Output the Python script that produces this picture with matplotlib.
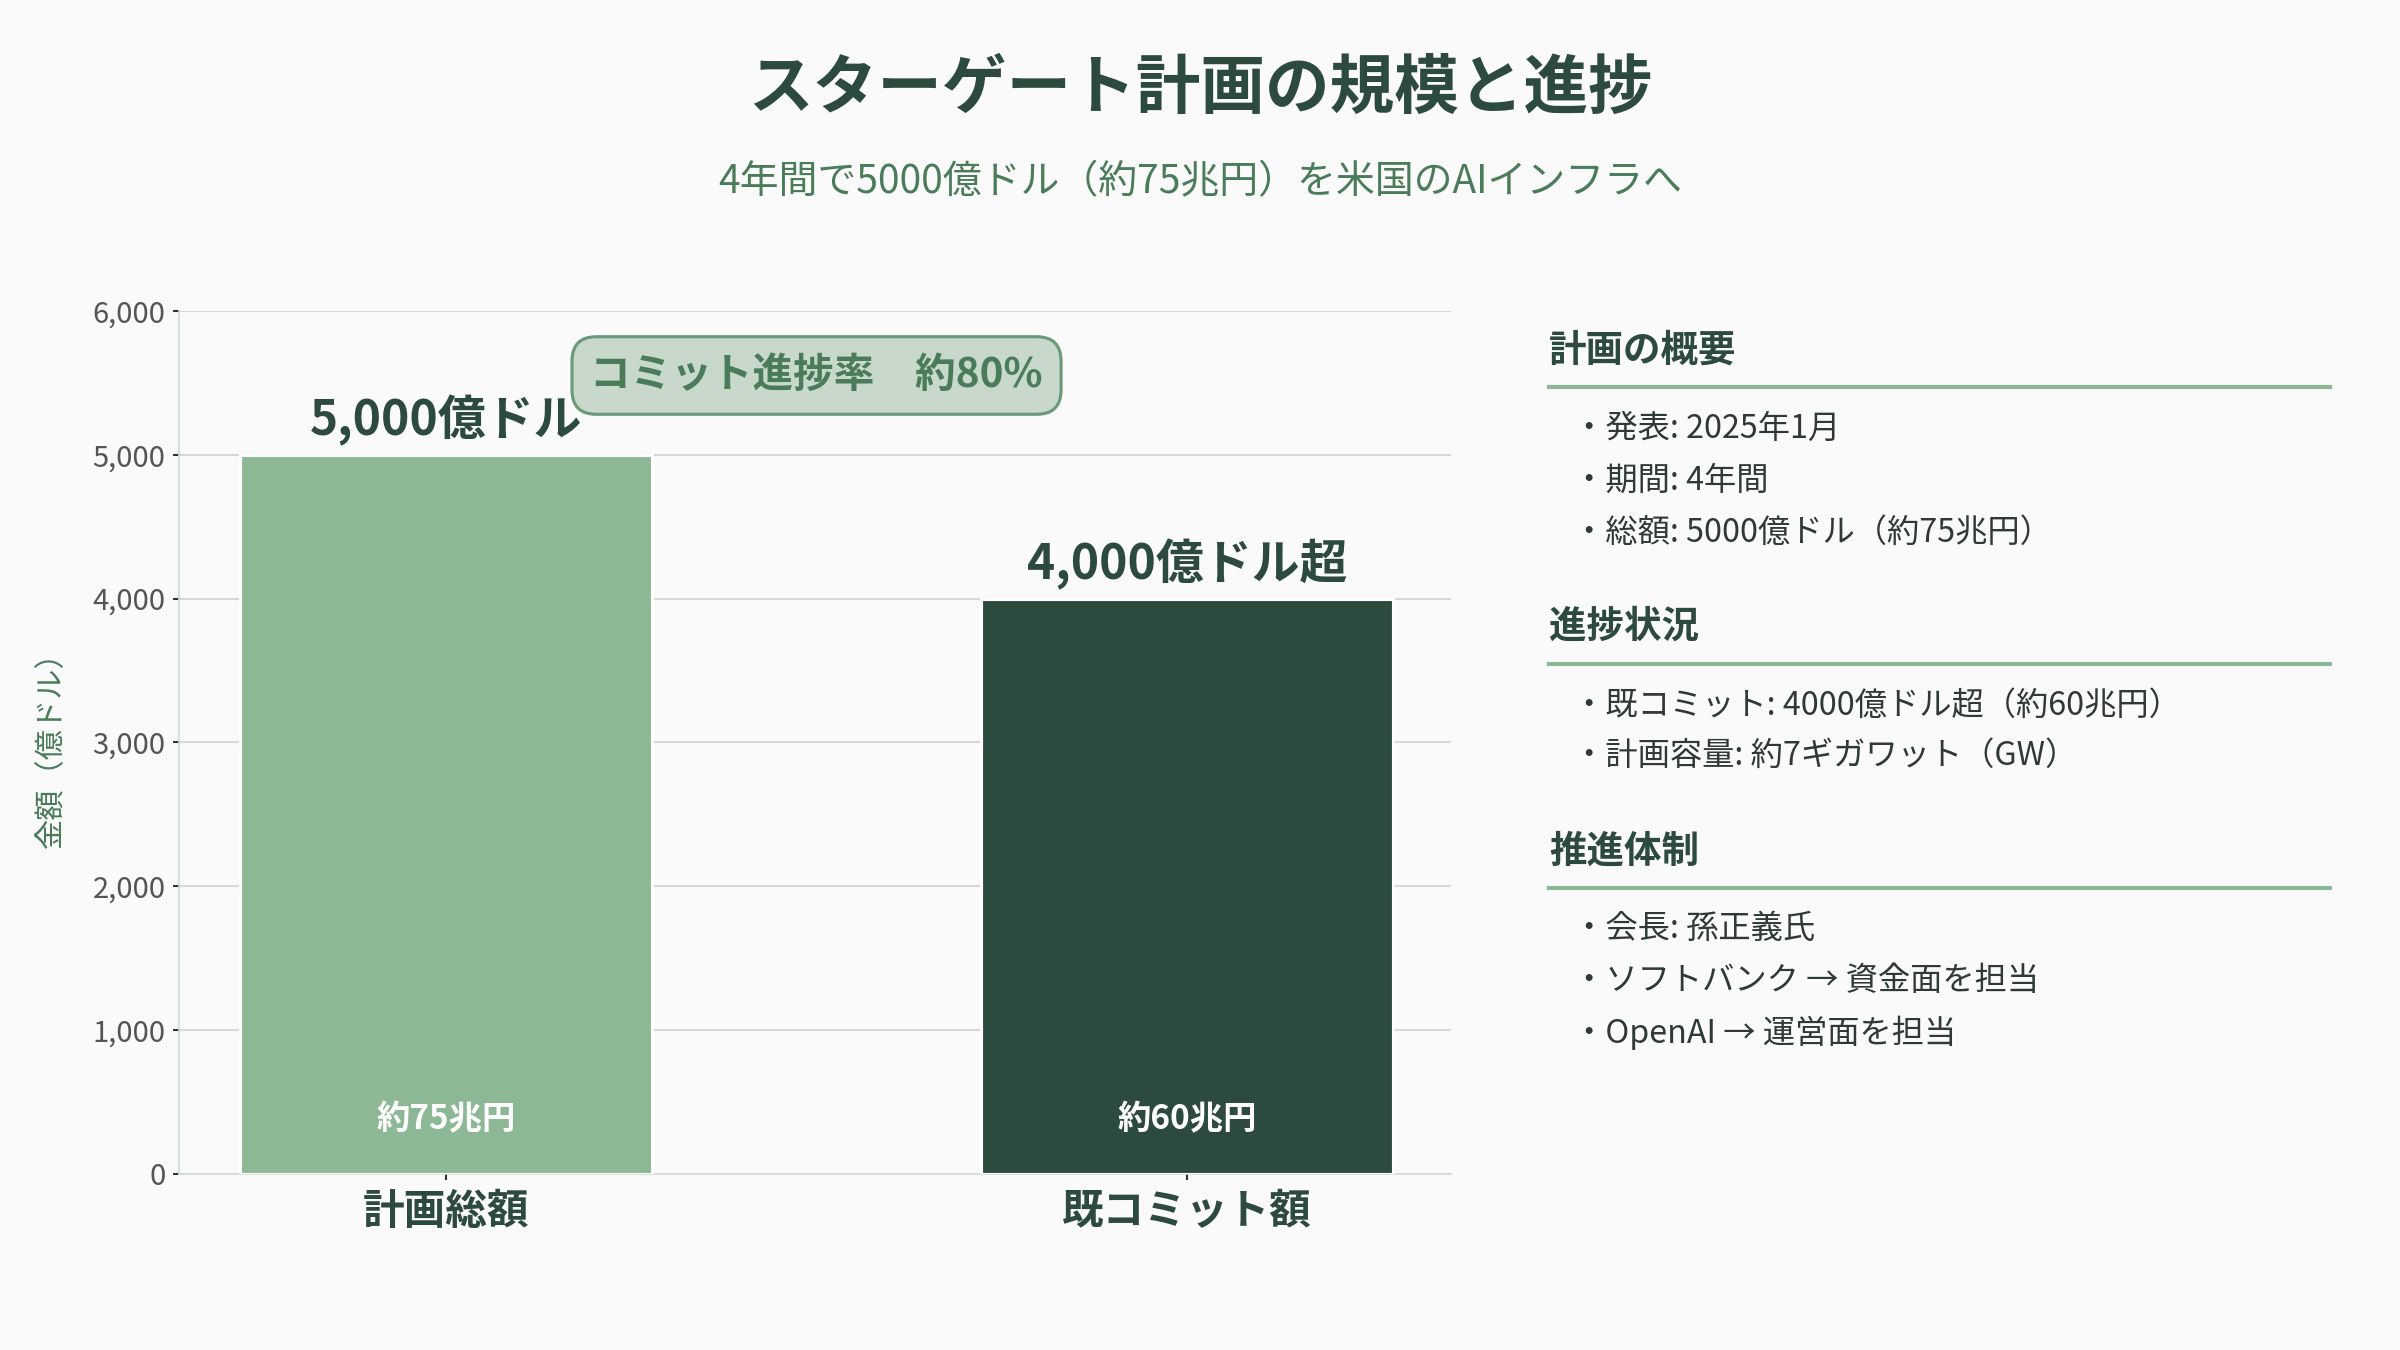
import matplotlib
matplotlib.use('Agg')
import matplotlib.pyplot as plt

plt.rcParams['font.family'] = ['Noto Sans CJK JP', 'DejaVu Sans']

# data
categories = ['計画総額', '既コミット額']
values = [5000, 4000]
top_labels = ['5,000億ドル', '4,000億ドル超']
yen_labels = ['約75兆円', '約60兆円']
bar_colors = ['#8db896', '#2d4a3e']
progress_text = 'コミット進捗率　約80%'

sections = ['計画の概要', '進捗状況', '推進体制']
section_items = [
    ['発表: 2025年1月', '期間: 4年間', '総額: 5000億ドル（約75兆円）'],
    ['既コミット: 4000億ドル超（約60兆円）', '計画容量: 約7ギガワット（GW）'],
    ['会長: 孫正義氏', 'ソフトバンク → 資金面を担当', 'OpenAI → 運営面を担当'],
]

dark = '#2d4a3e'
mid = '#4a7c59'
bg = '#fafafa'

fig = plt.figure(figsize=(16, 9), dpi=150, facecolor=bg)
ax = fig.add_axes([0.0746, 0.1304, 0.530, 0.6394])
ax.set_facecolor(bg)

x = list(range(len(categories)))
ax.bar(x, values, width=0.555, color=bar_colors, edgecolor='white', linewidth=1.5, zorder=3)
ax.set_xlim(-0.36, 1.356)
ax.set_ylim(0, 6000)
ax.set_yticks(range(0, 6001, 1000))
ax.set_yticklabels([f'{v:,}' for v in range(0, 6001, 1000)])
ax.set_xticks(x)
ax.set_xticklabels(categories, fontsize=20, fontweight='bold', color=dark)
ax.tick_params(axis='y', labelsize=14, labelcolor='#555555', color='#333333', length=3, width=1)
ax.tick_params(axis='x', color='#333333', length=3, width=1, pad=5)
ax.grid(axis='y', color='#cfdcd2', linewidth=1, zorder=0)
ax.set_axisbelow(True)
for s in ['top', 'right']:
    ax.spines[s].set_visible(False)
for s in ['left', 'bottom']:
    ax.spines[s].set_color('#cfdcd2')

ax.set_ylabel('金額（億ドル）', fontsize=14.5, color=mid)
ax.yaxis.set_label_coords(-0.088, 0.5)

for i, v in enumerate(values):
    ax.annotate(top_labels[i], (x[i], v), xytext=(0, 4), textcoords='offset points',
                ha='center', va='bottom', fontsize=23, fontweight='bold', color=dark, zorder=5)
    ax.text(x[i], 380, yen_labels[i], ha='center', va='center', fontsize=16,
            fontweight='bold', color='white', zorder=5)

ax.text(0.5, 5550, progress_text, ha='center', va='center', fontsize=19.5,
        fontweight='bold', color=mid, zorder=6,
        bbox=dict(boxstyle='round,pad=0.45,rounding_size=0.6', facecolor='#c8d9cb',
                  edgecolor='#6b9a78', linewidth=1.5))

# title
fig.text(0.5, 0.934, 'スターゲート計画の規模と進捗', ha='center', va='center',
         fontsize=31, fontweight='bold', color=dark)
fig.text(0.5, 0.865, '4年間で5000億ドル（約75兆円）を米国のAIインフラへ', ha='center',
         va='center', fontsize=18.7, color=mid)

# right panel
head_y = [0.7404, 0.5363, 0.3696]
line_y = [0.7132, 0.5079, 0.3424]
item_y = [[0.6825, 0.644, 0.6054], [0.4773, 0.4399], [0.3118, 0.2732, 0.2347]]
for k, sec in enumerate(sections):
    fig.text(0.6454, head_y[k], sec, ha='left', va='center', fontsize=18,
             fontweight='bold', color=dark)
    fig.add_artist(plt.Line2D([0.6454, 0.9707], [line_y[k], line_y[k]],
                              color='#8db896', linewidth=2, transform=fig.transFigure))
    for j, item in enumerate(section_items[k]):
        fig.text(0.6555, item_y[k][j], '・' + item, ha='left', va='center',
                 fontsize=15.5, color='#2f3a35')

fig.savefig('out.png', dpi=150, facecolor=bg)
